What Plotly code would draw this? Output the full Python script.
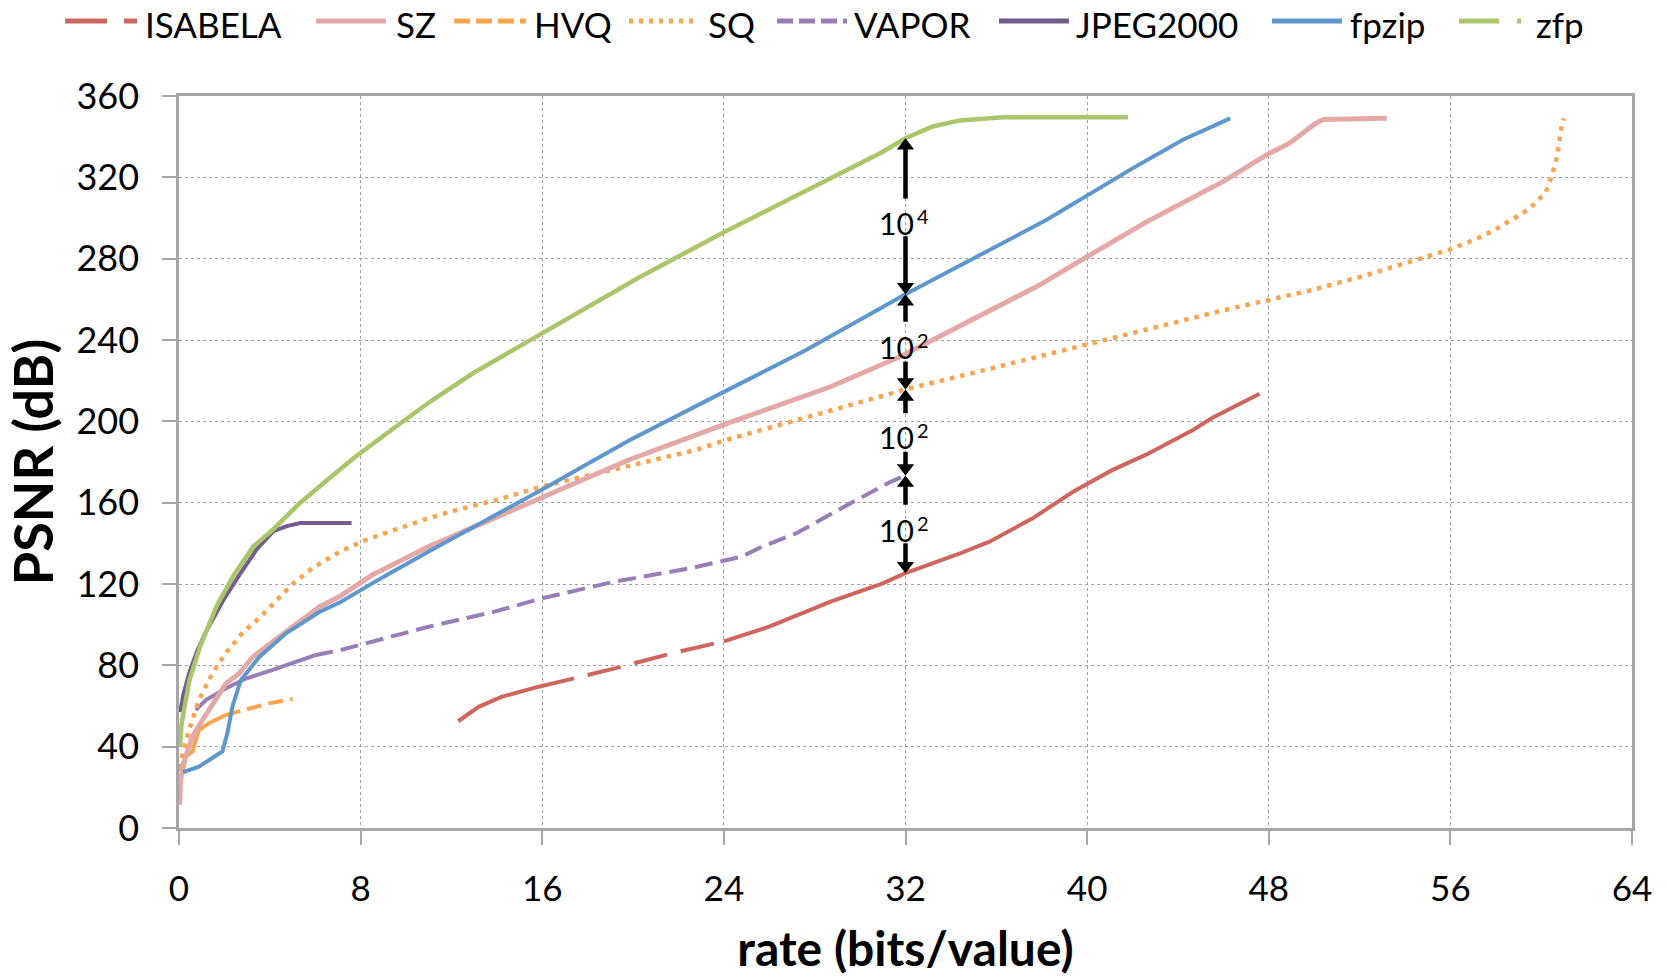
import plotly.graph_objects as go

# ---------------- data ----------------
isabela_x = [12.3, 13.2, 14.2, 15.85, 17.4, 19.2, 21.7, 24.0, 26.0, 28.7, 31.0, 32.0, 34.4, 35.7, 37.6, 39.4, 41.1, 42.6, 44.7, 45.5, 47.6]
isabela_y = [52.5, 59.6, 64.5, 69.5, 73.6, 78.5, 85.9, 91.8, 99.0, 111.3, 120.3, 125.3, 135.0, 140.8, 152.3, 165.5, 176.0, 183.6, 196.0, 201.6, 213.6]

sz_x = [0.03, 0.07, 0.29, 0.59, 1.03, 1.47, 2.06, 2.65, 3.24, 3.82, 5.0, 6.18, 7.1, 8.5, 11.0, 13.9, 16.0, 19.8, 24.0, 28.7, 31.8, 34.2, 37.9, 40.0, 42.6, 46.0, 47.9, 48.9, 50.0, 50.4, 53.2]
sz_y = [11.4, 23.7, 35, 45, 53, 61, 71, 76, 84, 89, 99, 108.7, 114, 124.4, 138.4, 152.4, 163, 181, 198.4, 217, 232, 245.6, 267, 281, 298, 318, 331, 336.7, 346, 348.5, 349]

hvq_x = [0.03, 0.29, 0.59, 0.88, 1.32, 2.06, 2.94, 3.97, 5.0]
hvq_y = [27.8, 35, 37.6, 48.2, 51.5, 55.6, 58, 61.3, 63.5]

sq_x = [0.03, 0.15, 0.44, 0.88, 1.47, 2.06, 2.8, 3.6, 4.3, 5.0, 5.9, 7.1, 8.3, 9.8, 11.0, 12.1, 14.0, 16.0, 20.0, 22.8, 24.0, 26.7, 29.1, 31.3, 32.0, 35.3, 40.0, 44.1, 46.0, 48.0, 50.0, 52.3, 54.7, 56.0, 57.0, 57.9, 58.8, 59.5, 60.2, 60.5, 60.7, 60.8, 60.9, 61.0]
sq_y = [29.4, 36, 48, 63, 76, 86, 96, 104, 112, 120, 128, 136, 142, 148, 152.4, 156, 161.4, 168, 178.5, 186, 190.5, 199, 207, 213.8, 215.7, 224.7, 238, 249.5, 254.6, 259.7, 264.8, 271.9, 280, 284.6, 289, 293.8, 299.8, 304.7, 312.6, 322, 330, 338.7, 345, 349]

vapor_x = [0.74, 1.18, 2.06, 2.94, 4.1, 6.0, 7.1, 11.0, 13.9, 16.0, 19.2, 22.5, 24.8, 25.7, 27.2, 29.3, 31.3, 32.0]
vapor_y = [58, 62.9, 68.6, 73.5, 77.6, 85, 87.5, 99, 106.4, 113, 121.2, 127.7, 133.5, 138.4, 145, 158, 170, 173.4]

jpeg_x = [0.05, 0.2, 0.47, 0.8, 1.21, 1.95, 2.69, 3.42, 4.16, 4.75, 5.34, 6.0, 7.6]
jpeg_y = [57, 66, 77, 87, 97, 112, 125, 137, 146, 148.5, 150, 150, 150]

fpzip_x = [0.18, 0.88, 1.91, 2.13, 2.35, 2.72, 3.53, 4.7, 6.18, 7.1, 9.0, 11.0, 16.0, 19.8, 24.0, 27.6, 32.0, 35.3, 38.2, 42.0, 44.2, 46.3]
fpzip_y = [27.5, 30.2, 37.6, 46.6, 59.6, 72.7, 84, 95.6, 106.2, 111, 123.5, 136, 166.5, 190.5, 214.5, 235, 262.5, 281.7, 299, 324.4, 338.4, 349]

zfp_x = [0.05, 0.1, 0.25, 0.47, 0.92, 1.65, 2.39, 3.28, 4.16, 5.34, 6.52, 7.7, 9.5, 11.1, 13.0, 16.0, 20.3, 24.0, 28.2, 30.9, 32.0, 33.2, 34.4, 36.3, 41.8]
zfp_y = [40, 50, 60, 73, 89, 109, 124, 138.5, 147, 160, 171, 182, 197, 210, 224, 243.5, 271, 293, 317, 332, 339.2, 345, 348, 349.5, 349.5]

colors = {"ISABELA": "#CD665F", "SZ": "#E4A9A6", "HVQ": "#F9A550", "SQ": "#F9A550",
          "VAPOR": "#987DB7", "JPEG2000": "#735C8E", "fpzip": "#5F97CD", "zfp": "#A9C66B"}

# comparison arrows at rate 32:
# (upper curve, lower curve, upper shaft tail, lower shaft tail, label y, base, exponent)
arrow_x = 32
arrow_pairs = [(339.2, 262.5, 309.5, 291.0, 297.5, "10", "4"),
               (262.5, 215.7, 249.0, 229.4, 236.5, "10", "2"),
               (215.7, 173.4, 204.0, 185.0, 192.5, "10", "2"),
               (173.4, 125.3, 159.0, 140.0, 146.5, "10", "2")]

x_ticks = [0, 8, 16, 24, 32, 40, 48, 56, 64]
y_ticks = [0, 40, 80, 120, 160, 200, 240, 280, 320, 360]

FONT = "Lato"
FIG_W, FIG_H = 1669, 979
L, R, T, B = 179, 1632, 96, 828   # plot area in pixels
W, H = R - L, B - T
DB_PER_PX = 360 / H

fig = go.Figure()

def add(x, y, name, dash="solid", width=4):
    fig.add_trace(go.Scatter(x=x, y=y, mode="lines", name=name, showlegend=False,
                             line=dict(color=colors[name], width=width, dash=dash)))

add(isabela_x[:5], isabela_y[:5], "ISABELA")
add(isabela_x[4:8], isabela_y[4:8], "ISABELA", dash="0px,14px,34px,0px")
add(isabela_x[7:], isabela_y[7:], "ISABELA")
add(vapor_x[:6], vapor_y[:6], "VAPOR")
add(vapor_x[5:], vapor_y[5:], "VAPOR", dash="18px,8px")
add(hvq_x[:6], hvq_y[:6], "HVQ")
add(hvq_x[5:], hvq_y[5:], "HVQ", dash="15px,7px")
add(sq_x, sq_y, "SQ", dash="4.5px,6px", width=4.5)
add(sz_x, sz_y, "SZ", width=5)
add(fpzip_x, fpzip_y, "fpzip")
add(jpeg_x, jpeg_y, "JPEG2000")
add(zfp_x, zfp_y, "zfp", width=4.5)

# double-headed comparison arrows: shafts + triangular heads whose tips touch the curves
HEAD = 15                          # marker size (px)
head_off = (HEAD / 2) * DB_PER_PX  # centre-to-tip distance in data units
shaft_x, shaft_y, head_y, head_sym = [], [], [], []
for up, lo, t_up, t_lo, lab_y, base, expo in arrow_pairs:
    shaft_x += [arrow_x, arrow_x, None, arrow_x, arrow_x, None]
    shaft_y += [t_up, up - head_off, None, t_lo, lo + head_off, None]
    head_y += [up - head_off, lo + head_off]
    head_sym += ["triangle-up", "triangle-down"]
    fig.add_annotation(x=arrow_x, y=lab_y, xref="x", yref="y", text=base, showarrow=False,
                       xshift=-9, font=dict(family=FONT, size=30, color="black"))
    fig.add_annotation(x=arrow_x, y=lab_y, xref="x", yref="y", text=expo, showarrow=False,
                       xshift=17, yshift=7, font=dict(family=FONT, size=20, color="black"))
fig.add_trace(go.Scatter(x=shaft_x, y=shaft_y, mode="lines", showlegend=False, hoverinfo="skip",
                         line=dict(color="black", width=4.5)))
fig.add_trace(go.Scatter(x=[arrow_x] * len(head_y), y=head_y, mode="markers", showlegend=False,
                         hoverinfo="skip",
                         marker=dict(symbol=head_sym, size=HEAD, color="black", line=dict(width=0))))

def px(xp):
    return (xp - L) / W
def py(yp):
    return (B - yp) / H

legend_items = [
    ("ISABELA", 65, 137, "42px,17px,13px,100px", 143),
    ("SZ", 316, 386, "solid", 394),
    ("HVQ", 454, 526, "16px,6px", 532),
    ("SQ", 629, 697, "4px,6px", 706),
    ("VAPOR", 777, 847, "16px,6px", 852),
    ("JPEG2000", 999, 1069, "solid", 1074),
    ("fpzip", 1272, 1342, "solid", 1348),
    ("zfp", 1459, 1522, "40px,18px,4px,100px", 1534),
]
ly = 21
for name, x0, x1, dash, tx in legend_items:
    fig.add_shape(type="line", xref="paper", yref="paper", x0=px(x0), x1=px(x1), y0=py(ly), y1=py(ly),
                  line=dict(color=colors[name], width=5, dash=dash))
    fig.add_annotation(xref="paper", yref="paper", x=px(tx), y=py(24), text=name, showarrow=False,
                       xanchor="left", yanchor="middle", font=dict(family=FONT, size=35, color="black"))

axis_common = dict(showline=True, mirror=True, linecolor="#A6A6A6", linewidth=2.5,
                   ticks="outside", ticklen=14, tickwidth=1.5, tickcolor="#A6A6A6",
                   showgrid=True, gridcolor="#A0A0A0", gridwidth=1.3, griddash="dot",
                   zeroline=False)

fig.update_xaxes(range=[0, 64], tickvals=x_ticks, ticktext=[str(v) for v in x_ticks],
                 tickfont=dict(family=FONT, size=35, color="black"), ticklabelstandoff=14,
                 title=dict(text="<b>rate (bits/value)</b>", font=dict(family=FONT, size=48, color="black"),
                            standoff=26),
                 **axis_common)
fig.update_yaxes(range=[0, 360], tickvals=y_ticks, ticktext=[str(v) for v in y_ticks],
                 tickfont=dict(family=FONT, size=36, color="black"), ticklabelstandoff=16,
                 title=dict(text="<b>PSNR (dB)</b>", font=dict(family=FONT, size=54, color="black"),
                            standoff=10),
                 **axis_common)

fig.update_layout(width=FIG_W, height=FIG_H,
                  margin=dict(l=L, r=FIG_W - R, t=T, b=FIG_H - B, autoexpand=False),
                  paper_bgcolor="white", plot_bgcolor="white", showlegend=False,
                  font=dict(family=FONT))

fig.write_html("out.html", config={"displayModeBar": False},
               post_script="document.body.style.margin='0px';")
